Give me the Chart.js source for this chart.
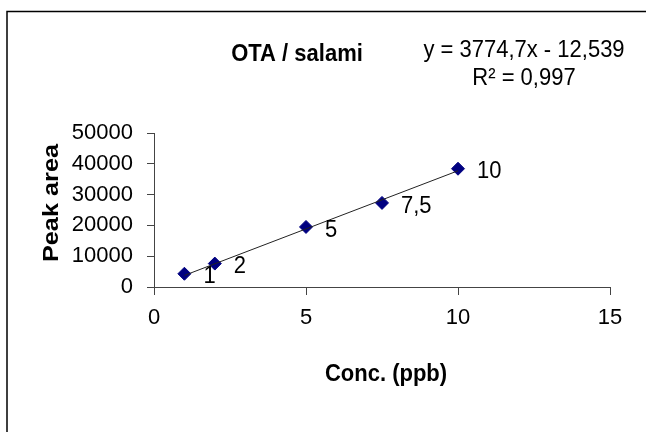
<!DOCTYPE html>
<html>
<head>
<meta charset="utf-8">
<title>OTA / salami</title>
<script src="https://cdn.jsdelivr.net/npm/chart.js@4.4.1/dist/chart.umd.min.js"></script>
<style>
  html, body { margin: 0; padding: 0; background: #fff; }
  #wrap { position: relative; width: 646px; height: 432px; }
</style>
</head>
<body>
<div id="wrap"><canvas id="calib" width="646" height="432"></canvas></div>
<script>
// calibration points
const concentrations = [1, 2, 5, 7.5, 10];
const peakAreas = [4300, 7600, 19500, 27300, 38400];
const pointLabels = ["1", "2", "5", "7,5", "10"];

// linear trendline (y = 3774,7x - 12,539) between first and last level
const trendX = [1, 10];
const trendY = [3762, 37734];

const xTicks = [0, 5, 10, 15];
const yTicks = [0, 10000, 20000, 30000, 40000, 50000];

const chartTitle = "OTA / salami";
const equationLines = ["y = 3774,7x - 12,539", "R\u00b2 = 0,997"];
const xTitle = "Conc. (ppb)";
const yTitle = "Peak area";

const FONT = "'Liberation Sans', Arial, sans-serif";
Chart.defaults.font.family = FONT;
Chart.defaults.font.size = 22;
Chart.defaults.color = "#000";

// the original picture is a little taller than wide, so stretch free text a bit
function tallText(ctx, text, x, y, stretch) {
  ctx.save();
  ctx.translate(x, y);
  ctx.scale(1, stretch);
  ctx.fillText(text, 0, 0);
  ctx.restore();
}

// frame, titles, equation and point labels
const decorations = {
  id: "decorations",
  beforeDraw(chart) {
    const ctx = chart.ctx;
    ctx.save();
    ctx.strokeStyle = "#000";
    ctx.lineWidth = 1.5;
    ctx.beginPath();
    ctx.moveTo(7, 432);
    ctx.lineTo(7, 11.5);
    ctx.lineTo(646, 11.5);
    ctx.stroke();
    ctx.restore();
  },
  afterDraw(chart) {
    const ctx = chart.ctx;
    ctx.save();
    ctx.fillStyle = "#000";
    ctx.textAlign = "center";
    ctx.textBaseline = "middle";

    ctx.font = "bold 22px " + FONT;
    tallText(ctx, chartTitle, 297, 54, 1.12);

    ctx.font = "22px " + FONT;
    tallText(ctx, equationLines[0], 524, 50, 1.12);
    tallText(ctx, equationLines[1], 524, 78, 1.12);

    ctx.font = "bold 22px " + FONT;
    tallText(ctx, xTitle, 386, 374, 1.12);

    ctx.save();
    ctx.translate(52, 203);
    ctx.scale(1, 1.15);
    ctx.rotate(-Math.PI / 2);
    ctx.fillText(yTitle, 0, 0);
    ctx.restore();

    // data labels to the right of each marker
    const meta = chart.getDatasetMeta(1);
    ctx.font = "22px " + FONT;
    ctx.textAlign = "left";
    meta.data.forEach((pt, i) => {
      tallText(ctx, pointLabels[i], pt.x + 19, pt.y + 3, 1.1);
    });
    ctx.restore();
  }
};

new Chart(document.getElementById("calib"), {
  type: "scatter",
  data: {
    datasets: [
      {
        label: "Trendline",
        data: trendX.map((x, i) => ({ x: x, y: trendY[i] })),
        showLine: true,
        borderColor: "#222",
        borderWidth: 1,
        pointRadius: 0,
        fill: false
      },
      {
        label: "Peak area",
        data: concentrations.map((x, i) => ({ x: x, y: peakAreas[i] })),
        pointStyle: "rectRot",
        pointRadius: 6.5,
        pointBackgroundColor: "#000080",
        pointBorderColor: "#000080",
        pointBorderWidth: 1,
        showLine: false
      }
    ]
  },
  options: {
    responsive: false,
    animation: false,
    layout: { padding: { top: 133, right: 36, left: 0, bottom: 0 } },
    plugins: {
      legend: { display: false },
      tooltip: { enabled: false }
    },
    scales: {
      x: {
        type: "linear",
        min: 0,
        max: 15,
        afterFit(scale) { scale.height = 145; },
        afterBuildTicks(scale) { scale.ticks = xTicks.map(v => ({ value: v })); },
        ticks: { padding: 10, maxRotation: 0, callback: v => String(v) },
        grid: { drawOnChartArea: false, tickLength: 8, color: "#444", tickColor: "#444" },
        border: { display: true, color: "#444", width: 1 }
      },
      y: {
        type: "linear",
        min: 0,
        max: 50000,
        afterFit(scale) { scale.width = 154; },
        afterBuildTicks(scale) { scale.ticks = yTicks.map(v => ({ value: v })); },
        ticks: { padding: 14, callback: v => String(v) },
        grid: { drawOnChartArea: false, tickLength: 7, color: "#444", tickColor: "#444" },
        border: { display: true, color: "#444", width: 1 }
      }
    }
  },
  plugins: [decorations]
});
</script>
</body>
</html>
